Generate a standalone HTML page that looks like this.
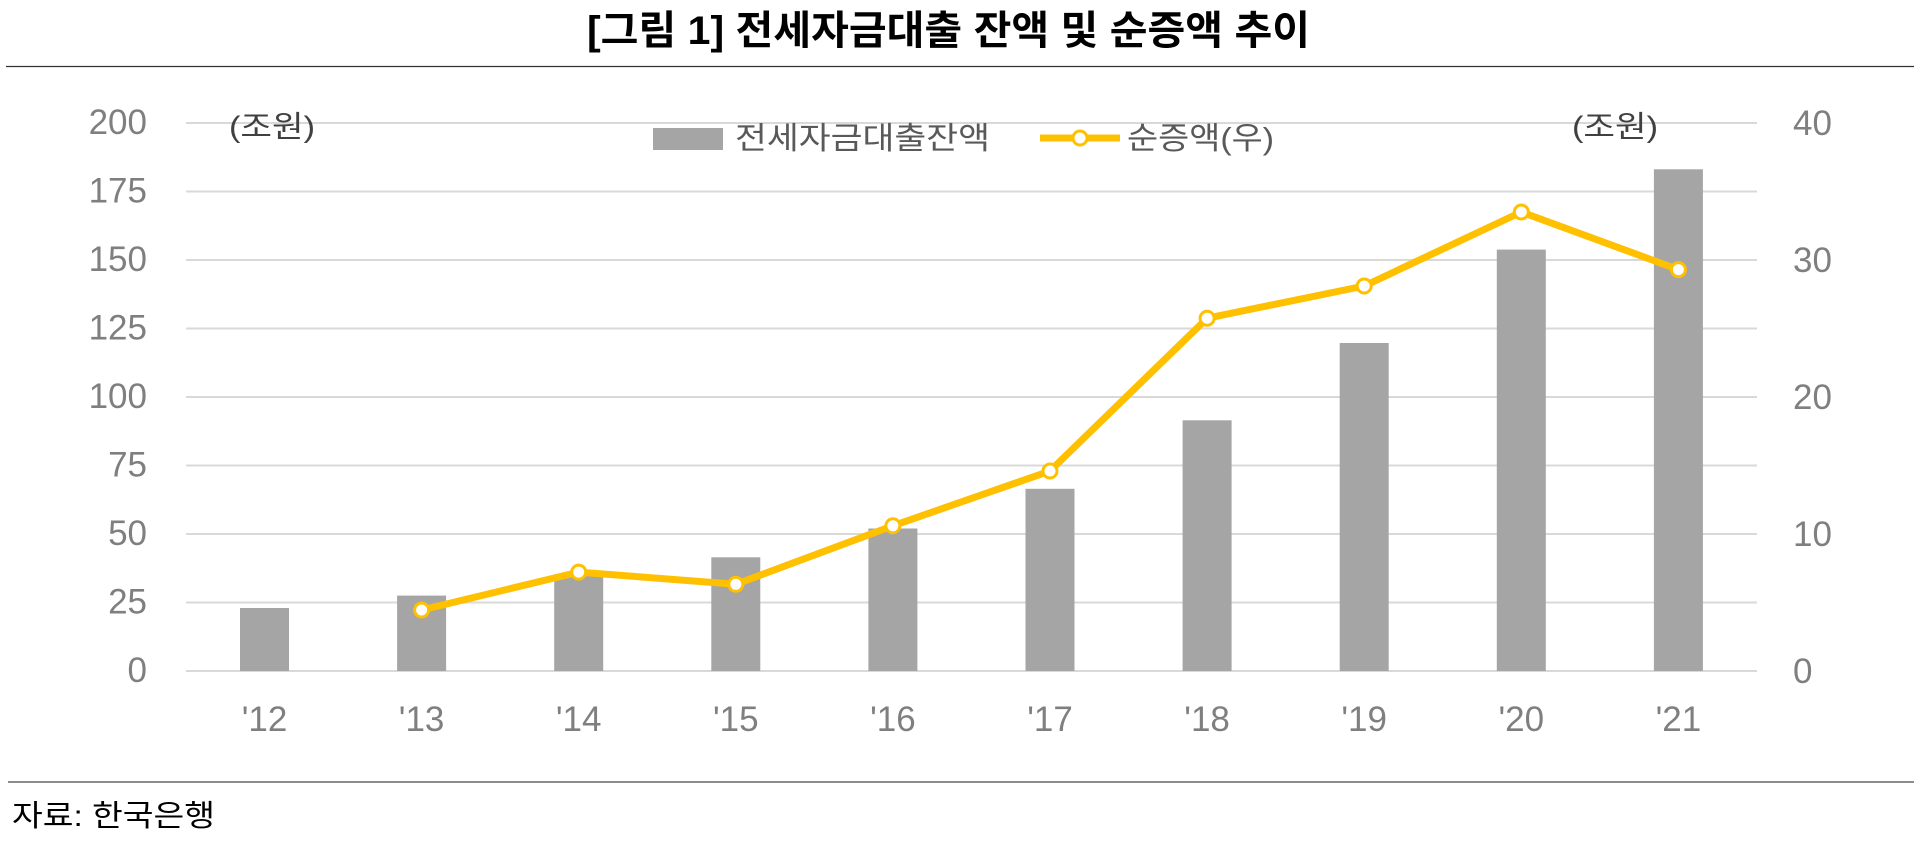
<!DOCTYPE html>
<html><head><meta charset="utf-8"><style>
html,body{margin:0;padding:0;background:#fff;}
svg{display:block;}
text{font-family:"Liberation Sans","Noto Sans CJK KR",sans-serif;}
.k{font-family:"Liberation Sans","Noto Sans CJK KR",sans-serif;}
</style></head><body>
<svg width="1920" height="841" viewBox="0 0 1920 841" xmlns="http://www.w3.org/2000/svg">
<rect width="1920" height="841" fill="#fff"/>
<text x="587" y="44" font-size="40" font-weight="bold" fill="#000" textLength="723" lengthAdjust="spacingAndGlyphs">[그림 1] 전세자금대출 잔액 및 순증액 추이</text>
<line x1="6" y1="66.5" x2="1914" y2="66.5" stroke="#333" stroke-width="1.3"/>
<g stroke="#d9d9d9" stroke-width="2">
<line x1="186" y1="123" x2="1757" y2="123"/>
<line x1="186" y1="191.5" x2="1757" y2="191.5"/>
<line x1="186" y1="260" x2="1757" y2="260"/>
<line x1="186" y1="328.5" x2="1757" y2="328.5"/>
<line x1="186" y1="397" x2="1757" y2="397"/>
<line x1="186" y1="465.5" x2="1757" y2="465.5"/>
<line x1="186" y1="534" x2="1757" y2="534"/>
<line x1="186" y1="602.5" x2="1757" y2="602.5"/>
<line x1="186" y1="671" x2="1757" y2="671"/>
</g>
<g font-size="35" fill="#7f7f7f" text-anchor="end">
<text x="147" y="134">200</text>
<text x="147" y="202.5">175</text>
<text x="147" y="271">150</text>
<text x="147" y="339.5">125</text>
<text x="147" y="408">100</text>
<text x="147" y="476.5">75</text>
<text x="147" y="545">50</text>
<text x="147" y="613.5">25</text>
<text x="147" y="682">0</text>
</g>
<g font-size="35" fill="#7f7f7f">
<text x="1793" y="135">40</text>
<text x="1793" y="272">30</text>
<text x="1793" y="409">20</text>
<text x="1793" y="546">10</text>
<text x="1793" y="683">0</text>
</g>
<g fill="#a5a5a5">
<rect x="240" y="608" width="49" height="63"/>
<rect x="397.1" y="595.6" width="49" height="75.4"/>
<rect x="554.2" y="574.3" width="49" height="96.7"/>
<rect x="711.3" y="557.3" width="49" height="113.7"/>
<rect x="868.4" y="528.5" width="49" height="142.5"/>
<rect x="1025.5" y="488.8" width="49" height="182.2"/>
<rect x="1182.6" y="420.3" width="49" height="250.7"/>
<rect x="1339.7" y="343" width="49" height="328"/>
<rect x="1496.8" y="249.6" width="49" height="421.4"/>
<rect x="1653.9" y="169.3" width="49" height="501.7"/>
</g>
<polyline fill="none" stroke="#ffc000" stroke-width="7" stroke-linejoin="round" points="421.6,610 578.7,572.1 735.8,584.3 892.9,525.8 1050,471 1207.1,318.2 1364.2,286 1521.3,212 1678.4,269.6"/>
<g fill="#fff" stroke="#ffc000" stroke-width="3">
<circle cx="421.6" cy="610" r="7"/>
<circle cx="578.7" cy="572.1" r="7"/>
<circle cx="735.8" cy="584.3" r="7"/>
<circle cx="892.9" cy="525.8" r="7"/>
<circle cx="1050" cy="471" r="7"/>
<circle cx="1207.1" cy="318.2" r="7"/>
<circle cx="1364.2" cy="286" r="7"/>
<circle cx="1521.3" cy="212" r="7"/>
<circle cx="1678.4" cy="269.6" r="7"/>
</g>
<g font-size="35" fill="#7f7f7f" text-anchor="middle">
<text x="264.5" y="731">'12</text>
<text x="421.6" y="731">'13</text>
<text x="578.7" y="731">'14</text>
<text x="735.8" y="731">'15</text>
<text x="892.9" y="731">'16</text>
<text x="1050" y="731">'17</text>
<text x="1207.1" y="731">'18</text>
<text x="1364.2" y="731">'19</text>
<text x="1521.3" y="731">'20</text>
<text x="1678.4" y="731">'21</text>
</g>
<text x="229" y="137" font-size="30" fill="#404040" textLength="86" lengthAdjust="spacingAndGlyphs">(조원)</text>
<text x="1572" y="137" font-size="30" fill="#404040" textLength="86" lengthAdjust="spacingAndGlyphs">(조원)</text>
<rect x="653" y="128" width="70" height="22" fill="#a5a5a5"/>
<text x="735" y="149" font-size="31" fill="#595959" textLength="255" lengthAdjust="spacingAndGlyphs">전세자금대출잔액</text>
<line x1="1040" y1="138" x2="1120" y2="138" stroke="#ffc000" stroke-width="7"/>
<circle cx="1080" cy="138" r="7" fill="#fff" stroke="#ffc000" stroke-width="3"/>
<text x="1127" y="149" font-size="31" fill="#595959" textLength="147" lengthAdjust="spacingAndGlyphs">순증액(우)</text>
<line x1="8" y1="782" x2="1914" y2="782" stroke="#666" stroke-width="1.5"/>
<text x="12" y="826" font-size="30" fill="#000" textLength="203" lengthAdjust="spacingAndGlyphs">자료: 한국은행</text>
</svg>
</body></html>
